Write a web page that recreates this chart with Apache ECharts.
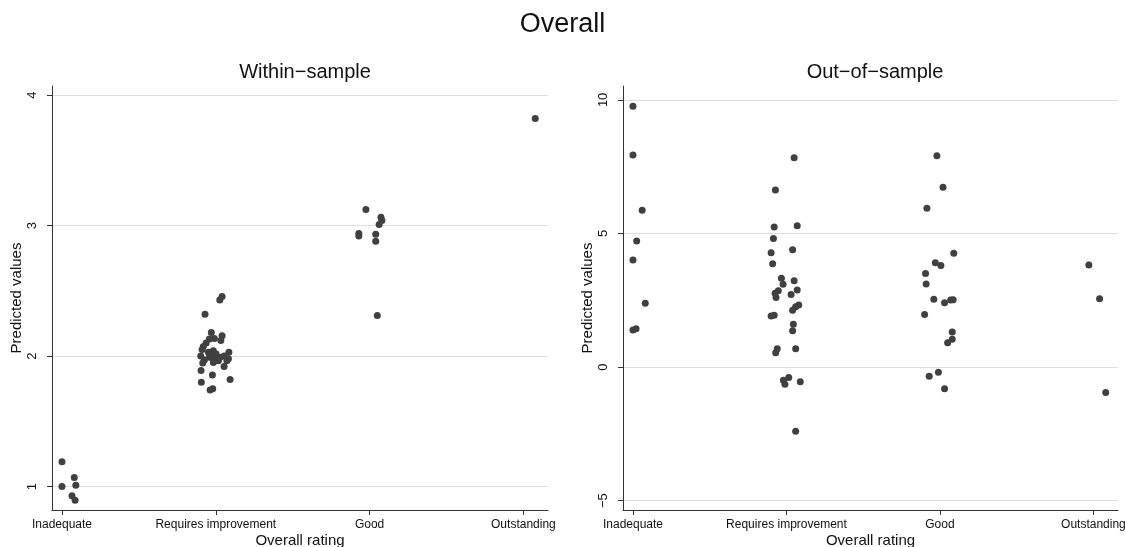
<!DOCTYPE html>
<html>
<head>
<meta charset="utf-8">
<script src="https://cdn.jsdelivr.net/npm/echarts@6/dist/echarts.min.js"></script>
<style>
html,body{margin:0;padding:0;background:#fff;}
#c{width:1125px;height:547px;}
</style>
</head>
<body>
<div id="c"></div>
<script>
// ---- Data ----
const categories = ['Inadequate', 'Requires improvement', 'Good', 'Outstanding'];
const withinTicks = [1, 2, 3, 4];
const outTicks = [-5, 0, 5, 10];

// Within-sample: predicted values per rating, with horizontal jitter (category units)
const withinInadequate = [1.19, 1.00, 1.07, 1.01, 0.93, 0.895];
const withinInadequateJitter = [0.0, 0.0, 0.08, 0.09, 0.065, 0.085];
const withinRequires = [2.456, 2.43, 2.32, 2.18, 2.135, 2.13, 2.155, 2.12, 2.10, 2.074, 2.05, 2.04, 2.015, 2.03, 2.0, 1.99, 1.99, 1.98, 2.0, 1.97, 1.977, 1.964, 1.99, 1.947, 1.95, 1.92, 1.89, 1.855, 1.80, 1.82, 1.75, 1.74, 2.03, 1.964];
const withinRequiresJitter = [0.041, 0.026, -0.07, -0.029, -0.009, -0.042, 0.041, 0.033, -0.063, -0.081, -0.089, -0.016, 0.002, 0.085, -0.098, -0.026, 0.028, 0.082, 0.054, -0.074, -0.005, 0.017, -0.042, -0.085, -0.016, 0.054, -0.096, -0.022, -0.094, 0.093, -0.02, -0.037, -0.048, 0.072];
const withinGood = [3.124, 3.063, 3.04, 3.008, 2.94, 2.92, 2.934, 2.88, 2.31];
const withinGoodJitter = [-0.024, 0.074, 0.08, 0.062, -0.07, -0.07, 0.04, 0.04, 0.05];
const withinOutstanding = [3.82];
const withinOutstandingJitter = [0.077];

// Out-of-sample
const outInadequate = [9.76, 7.94, 5.87, 4.72, 4.01, 2.39, 1.39, 1.43];
const outInadequateJitter = [0, 0, 0.06, 0.024, 0, 0.08, 0, 0.02];
const outRequires = [7.83, 6.63, 5.24, 5.29, 4.81, 4.39, 4.28, 3.87, 3.32, 3.10, 3.23, 2.86, 2.76, 2.60, 2.88, 2.72, 2.32, 2.26, 2.13, 1.94, 1.91, 1.60, 1.36, 0.69, 0.54, 0.69, -0.39, -0.49, -0.64, -0.55, -2.40];
const outRequiresJitter = [0.05, -0.072, -0.08, 0.07, -0.085, 0.04, -0.10, -0.09, -0.033, -0.022, 0.05, -0.053, -0.074, -0.068, 0.07, 0.03, 0.08, 0.06, 0.04, -0.08, -0.10, 0.045, 0.04, -0.06, -0.07, 0.06, 0.015, -0.02, -0.01, 0.09, 0.06];
const outGood = [7.91, 6.73, 5.94, 4.26, 3.90, 3.80, 3.50, 3.11, 2.54, 2.41, 2.51, 2.52, 1.97, 1.31, 1.04, 0.91, -0.19, -0.34, -0.81];
const outGoodJitter = [-0.02, 0.02, -0.085, 0.09, -0.03, 0.006, -0.094, -0.09, -0.04, 0.03, 0.07, 0.086, -0.10, 0.08, 0.08, 0.05, -0.01, -0.07, 0.03];
const outOutstanding = [3.82, 2.56, -0.95];
const outOutstandingJitter = [-0.03, 0.04, 0.08];

// ---- Build ----
const FONT = '"Liberation Sans", Arial, Helvetica, sans-serif';
const POINT = '#404040';
const AXIS = '#333333';
const GRID = '#dedede';

function pts(vals, jit, cat) {
  return vals.map((v, i) => [cat + jit[i], v]);
}
const withinData = [].concat(
  pts(withinInadequate, withinInadequateJitter, 1),
  pts(withinRequires, withinRequiresJitter, 2),
  pts(withinGood, withinGoodJitter, 3),
  pts(withinOutstanding, withinOutstandingJitter, 4)
);
const outData = [].concat(
  pts(outInadequate, outInadequateJitter, 1),
  pts(outRequires, outRequiresJitter, 2),
  pts(outGood, outGoodJitter, 3),
  pts(outOutstanding, outOutstandingJitter, 4)
);

const catIdx = [1, 2, 3, 4];
function xAxisCfg(gridIndex) {
  return {
    type: 'value', gridIndex: gridIndex, min: 0.935, max: 4.16,
    name: 'Overall rating', nameLocation: 'middle', nameGap: 23, nameMoveOverlap: false,
    nameTextStyle: { fontFamily: FONT, fontSize: 15, color: '#111' },
    axisLine: { show: true, onZero: false, lineStyle: { color: AXIS, width: 1 } },
    axisTick: { show: true, customValues: catIdx, length: 5, lineStyle: { color: AXIS } },
    axisLabel: { show: true, customValues: catIdx, margin: 9, fontFamily: FONT, fontSize: 12, color: '#111',
      formatter: v => categories[Math.round(v) - 1] },
    splitLine: { show: false }
  };
}
function yAxisCfg(gridIndex, min, max, ticks) {
  return {
    type: 'value', gridIndex: gridIndex, min: min, max: max,
    name: 'Predicted values', nameLocation: 'middle', nameGap: 28, nameMoveOverlap: false,
    nameTextStyle: { fontFamily: FONT, fontSize: 15, color: '#111' },
    axisLine: { show: true, onZero: false, lineStyle: { color: AXIS, width: 1 } },
    axisTick: { show: true, customValues: ticks, length: 5, lineStyle: { color: AXIS } },
    axisLabel: { show: true, customValues: ticks, rotate: 90, margin: 13, fontFamily: FONT, fontSize: 13, color: '#111',
      formatter: v => String(v).replace('-', '\u2212') },
    splitLine: { show: false }
  };
}
function gridLines(idx, ticks) {
  return {
    type: 'scatter', xAxisIndex: idx, yAxisIndex: idx, data: [], z: 0, silent: true,
    markLine: {
      silent: true, z: 0, symbol: ['none', 'none'], label: { show: false },
      lineStyle: { color: GRID, type: 'solid', width: 1 },
      emphasis: { disabled: true },
      data: ticks.map(t => ({ yAxis: t })),
      animation: false
    }
  };
}

const option = {
  animation: false,
  backgroundColor: '#ffffff',
  title: [
    { text: 'Overall', left: 'center', top: 6, textStyle: { fontFamily: FONT, fontSize: 27, fontWeight: 'normal', color: '#111' } },
    { text: 'Within\u2212sample', left: 300, top: 57, textAlign: 'center', textStyle: { fontFamily: FONT, fontSize: 20, fontWeight: 'normal', color: '#111' } },
    { text: 'Out\u2212of\u2212sample', left: 870, top: 57, textAlign: 'center', textStyle: { fontFamily: FONT, fontSize: 20, fontWeight: 'normal', color: '#111' } }
  ],
  grid: [
    { left: 52, top: 86, width: 496, height: 424, containLabel: false, outerBoundsMode: 'none' },
    { left: 623, top: 86, width: 495, height: 424, containLabel: false, outerBoundsMode: 'none' }
  ],
  xAxis: [xAxisCfg(0), xAxisCfg(1)],
  yAxis: [yAxisCfg(0, 0.82, 4.07, withinTicks), yAxisCfg(1, -5.35, 10.52, outTicks)],
  series: [
    gridLines(0, withinTicks),
    gridLines(1, outTicks),
    { type: 'scatter', xAxisIndex: 0, yAxisIndex: 0, data: withinData, symbolSize: 7, z: 10,
      itemStyle: { color: POINT, opacity: 1 } },
    { type: 'scatter', xAxisIndex: 1, yAxisIndex: 1, data: outData, symbolSize: 7, z: 10,
      itemStyle: { color: POINT, opacity: 1 } }
  ]
};

const chart = echarts.init(document.getElementById('c'), null, { renderer: 'canvas' });
chart.setOption(option);
</script>
</body>
</html>
